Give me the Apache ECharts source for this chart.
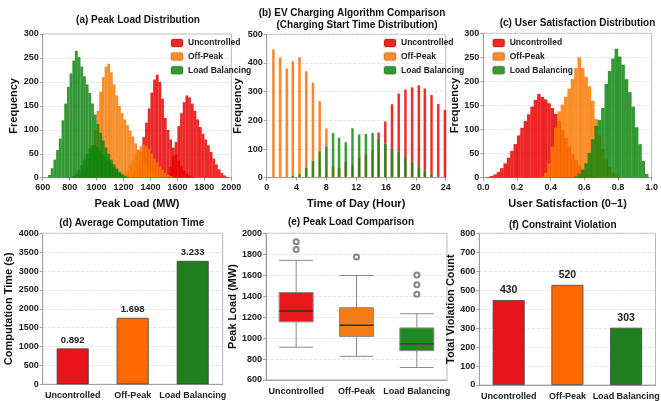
<!DOCTYPE html>
<html><head><meta charset="utf-8">
<script src="https://cdn.jsdelivr.net/npm/echarts@6/dist/echarts.min.js"></script>
<style>html,body{margin:0;padding:0;background:#fff}#c{width:661px;height:401px}</style>
</head><body><div id="c"></div>
<script>
// ---------- DATA ----------
const algorithms = ['Uncontrolled', 'Off-Peak', 'Load Balancing'];

// (a) Peak load histogram, bin centres (MW)
const loadBins = [650,670,690,710,730,750,770,790,810,830,850,870,890,910,930,950,970,990,1010,1030,1050,1070,1090,1110,1130,1150,1170,1190,1210,1230,1250,1270,1290,1310,1330,1350,1370,1390,1410,1430,1450,1470,1490,1510,1530,1550,1570,1590,1610,1630,1650,1670,1690,1710,1730,1750,1770,1790,1810,1830,1850,1870,1890,1910,1930,1950,1970];
const loadUncA = [0,0,0,0,0,0,0,0,0,0, 0,0,0,0,0,0,0,0,0,0, 0,0,0,0,0,0,0,0,0,0, 2,6,15,30,55,85,115,145,178,205, 215,200,165,125,100,80,63,48,35,24, 15,9,5,2,0,0,0,0,0,0, 0,0,0,0,0,0,0];
const loadUncB = [0,0,0,0,0,0,0,0,0,0, 0,0,0,0,0,0,0,0,0,0, 0,0,0,0,0,0,0,0,0,0, 0,0,0,0,0,0,0,0,0,0, 0,0,0,0,8,22,45,75,108,135, 158,172,168,155,140,122,106,92,80,68, 54,40,28,18,10,5,2];
const loadOffA = [0,0,0,0,0,0,0,0,0,0, 0,4,8,15,26,40,60,100,140,180, 210,232,238,220,195,172,150,135,122,110, 98,86,72,58,45,33,23,15,9,5, 2,0,0,0,0,0,0,0,0,0, 0,0,0,0,0,0,0,0,0,0, 0,0,0,0,0,0,0];
const loadOffB = [0,0,0,0,0,0,0,0,0,0, 0,0,0,0,0,0,0,0,0,0, 0,0,0,0,0,0,0,3,8,15, 25,36,48,58,66,70,67,60,51,41, 32,24,17,11,7,4,2,0,0,0, 0,0,0,0,0,0,0,0,0,0, 0,0,0,0,0,0,0];
const loadLbA = [6,20,38,58,82,120,155,190,218,245, 265,252,232,212,195,177,155,132,112,94, 78,63,50,38,28,19,12,7,3,0, 0,0,0,0,0,0,0,0,0,0, 0,0,0,0,0,0,0,0,0,0, 0,0,0,0,0,0,0,0,0,0, 0,0,0,0,0,0,0];
const loadLbB = [0,0,0,0,0,0,0,0,0,4, 9,16,26,38,50,61,68,66,62,56, 49,42,35,28,22,16,11,7,4,2, 0,0,0,0,0,0,0,0,0,0, 0,0,0,0,0,0,0,0,0,0, 0,0,0,0,0,0,0,0,0,0, 0,0,0,0,0,0,0];

// (b) charging start time histogram, bin centres (hour)
const timeBins = [0.9,1.8,2.7,3.5,4.4,5.3,6.2,7.1,8.0,8.9,9.7,10.6,11.5,12.4,13.3,14.2,15.0,15.9,16.8,17.7,18.6,19.5,20.4,21.2,22.1,23.0,23.9];
const timeUnc = [0,0,0,0,0,0,2,5,10,38,34,55,45,70,82,97,158,197,257,294,308,316,323,312,289,258,237];
const timeOff = [448,420,381,407,421,372,332,268,173,40,30,20,10,5,3,0,0,0,0,0,0,0,0,0,0,0,0];
const timeLb  = [0,0,0,8,15,35,60,93,110,157,140,125,173,152,153,157,137,120,103,92,73,55,37,25,13,3,0];

// (c) user satisfaction histogram, bin centres
const satBins = [0.03,0.05,0.07,0.09,0.11,0.13,0.15,0.17,0.19,0.21,0.23,0.25,0.27,0.29,0.31,0.33,0.35,0.37,0.39,0.41,0.43,0.45,0.47,0.49,0.51,0.53,0.55,0.57,0.59,0.61,0.63,0.65,0.67,0.69,0.71,0.73,0.75,0.77,0.79,0.81,0.83,0.85,0.87,0.89,0.91,0.93,0.95,0.97];
const satUnc = [2,4,7,12,20,30,42,56,70,88, 104,118,132,148,162,174,168,163,155,145, 133,118,100,82,65,50,37,26,17,10, 6,3,1,0,0,0,0,0,0,0, 0,0,0,0,0,0,0,0];
const satOff = [0,0,0,0,0,0,0,0,0,0, 0,0,0,0,0,0,3,10,30,65, 105,138,152,168,185,205,228,250,228,210, 190,160,122,88,60,38,22,11,5,2, 0,0,0,0,0,0,0,0];
const satLb  = [0,0,0,0,0,0,0,0,0,0, 0,0,0,0,0,0,0,0,0,0, 0,0,0,0,0,0,3,8,17,30, 52,80,108,120,145,195,222,248,268,252, 235,205,178,148,105,70,35,8];

// (d) average computation time
const compTime = [950, 1760, 3270];
const compLabels = ['0.892', '1.698', '3.233'];

// (e) peak load boxplot: [min, Q1, median, Q3, max]
const boxStats = [[913,1155,1258,1435,1742],[826,1016,1123,1290,1597],[719,880,945,1097,1232]];
const boxOutliers = [[0,1845],[0,1919],[1,1774],[2,1419],[2,1510],[2,1603]];
const boxMeans = [1326, 1088, 926];

// (f) constraint violation
const violations = [448, 528, 302];
const violationLabels = ['430', '520', '303'];

// ---------- STYLE ----------
const FONT = "'Liberation Sans Narrow','Liberation Sans',Arial,sans-serif";
const HC = ['#ee0000', '#ff7b00', '#118a11'];
const BC = ['#e8141c', '#ff6a00', '#1f7f1f'];
const XC = ['#e8181c', '#f57c14', '#1f8a1f'];

const grids = [
  {left:42.7, top:34, width:188.6, height:143.7},
  {left:266.7, top:34.3, width:179, height:143.4},
  {left:483.3, top:33.3, width:177.5, height:144.4},
  {left:42.7, top:233.3, width:180, height:151},
  {left:266, top:233.3, width:181, height:146.7},
  {left:479.3, top:233.3, width:186, height:153.4}
].map(g => Object.assign({show:true, borderColor:'#b8b8b8', borderWidth:1, backgroundColor:'transparent'}, g));

const lbl = {fontFamily:FONT, fontSize:9, fontWeight:'bold', color:'#222'};
const nameStyle = {fontFamily:FONT, fontSize:11, fontWeight:'bold', color:'#111'};
const axLine = {show:true, lineStyle:{color:'#a0a0a0', width:1}};
const tick = {show:true, length:3, lineStyle:{color:'#a0a0a0'}};
const split = {show:true, lineStyle:{color:'#dcdcdc', type:'dashed', width:0.8}};
const plain = v => String(v);

function valX(gi, min, max, interval, name, fmt) {
  return {type:'value', gridIndex:gi, min, max, interval, name, nameLocation:'middle', nameGap:21,
    nameTextStyle:nameStyle, axisLine:axLine, axisTick:tick, splitLine:{show:false},
    axisLabel:Object.assign({margin:5, formatter:fmt || plain}, lbl)};
}
function catX(gi) {
  return {type:'category', gridIndex:gi, data:algorithms, axisLine:axLine, axisTick:{show:false},
    splitLine:{show:false}, axisLabel:Object.assign({margin:7, interval:0}, lbl)};
}
function valY(gi, min, max, interval, name, gap) {
  return {type:'value', gridIndex:gi, min, max, interval, name, nameLocation:'middle', nameGap:gap,
    nameTextStyle:nameStyle, axisLine:axLine, axisTick:tick, splitLine:split,
    axisLabel:Object.assign({margin:4, formatter:plain}, lbl)};
}

function hist(name, bins, vals, color, gi, w) {
  return {type:'bar', name, xAxisIndex:gi, yAxisIndex:gi, barWidth:w, barGap:'-100%',
    data: bins.map((x,i) => vals[i] ? [x, vals[i]] : null).filter(Boolean),
    itemStyle:{color, opacity:0.85, borderColor:'rgba(0,0,0,0.15)', borderWidth:0.3},
    emphasis:{disabled:true}, silent:true};
}
function tbar(name, bins, vals, color, gi, w) {
  return {type:'bar', name, xAxisIndex:gi, yAxisIndex:gi, barWidth:w, barGap:'-100%',
    data: bins.map((x,i) => vals[i] ? [x, vals[i]] : null).filter(Boolean),
    itemStyle:{color, opacity:0.85, borderColor:'rgba(255,255,255,0.5)', borderWidth:0.4},
    emphasis:{disabled:true}, silent:true};
}

const legendBase = {orient:'vertical', itemWidth:12, itemHeight:8, itemGap:3.6, data:algorithms,
  textStyle:{fontFamily:FONT, fontSize:8.5, fontWeight:'bold', color:'#222'}, selectedMode:false, padding:0};

const series = [
  hist('Uncontrolled', loadBins, loadUncA, HC[0], 0, 3),
  hist('Uncontrolled', loadBins, loadUncB, HC[0], 0, 3),
  hist('Off-Peak', loadBins, loadOffA, HC[1], 0, 3),
  hist('Off-Peak', loadBins, loadOffB, HC[1], 0, 3),
  hist('Load Balancing', loadBins, loadLbA, HC[2], 0, 3),
  hist('Load Balancing', loadBins, loadLbB, HC[2], 0, 3),

  tbar('Uncontrolled', timeBins, timeUnc, '#ee0000', 1, 3),
  tbar('Off-Peak', timeBins, timeOff, '#ff6a00', 1, 3),
  tbar('Load Balancing', timeBins, timeLb, '#118a11', 1, 3),

  hist('Uncontrolled', satBins, satUnc, HC[0], 2, 3.8),
  hist('Off-Peak', satBins, satOff, HC[1], 2, 3.8),
  hist('Load Balancing', satBins, satLb, HC[2], 2, 3.8),

  {type:'bar', xAxisIndex:3, yAxisIndex:3, barWidth:32, silent:true,
   data: compTime.map((v,i)=>({value:v, itemStyle:{color:BC[i]}})),
   itemStyle:{borderColor:'#444', borderWidth:0.8},
   label:{show:true, position:'top', distance:3, formatter:p=>compLabels[p.dataIndex],
     fontFamily:FONT, fontSize:9.5, fontWeight:'bold', color:'#222'}},

  {type:'boxplot', xAxisIndex:4, yAxisIndex:4, boxWidth:[34,34], silent:true,
   data: boxStats.map((s,i)=>({value:s, itemStyle:{color:XC[i], borderColor:'#8a8a8a', borderWidth:1}}))},
  {type:'scatter', xAxisIndex:4, yAxisIndex:4, symbol:'rect', symbolSize:[34,1.4], silent:true,
   data: boxStats.map((s,i)=>[i, s[2]]), itemStyle:{color:'#1a1a1a'}},
  {type:'scatter', xAxisIndex:4, yAxisIndex:4, symbol:'emptyCircle', symbolSize:5, silent:true,
   data: boxOutliers, itemStyle:{color:'#666', borderColor:'#666', borderWidth:0.8}},
  {type:'scatter', xAxisIndex:4, yAxisIndex:4, symbolSize:1, silent:true, itemStyle:{opacity:0},
   data: boxMeans.map((m,i)=>[i, m]),
   label:{show:true, position:'inside', formatter:p=>String(boxMeans[p.dataIndex]),
     fontFamily:FONT, fontSize:10.5, color:'#1a1a1a'}},

  {type:'bar', xAxisIndex:5, yAxisIndex:5, barWidth:32, silent:true,
   data: violations.map((v,i)=>({value:v, itemStyle:{color:BC[i]}})),
   itemStyle:{borderColor:'#444', borderWidth:0.8},
   label:{show:true, position:'top', distance:4, formatter:p=>violationLabels[p.dataIndex],
     fontFamily:FONT, fontSize:10.5, fontWeight:'bold', color:'#222'}}
];

function ttext(x, y, t, size) {
  return {type:'text', x, y, silent:true, style:{text:t, fill:'#111', font:'bold '+(size||10)+'px '+FONT,
    textAlign:'center', textVerticalAlign:'middle', align:'center', verticalAlign:'middle'}};
}

const option = {
  animation:false,
  backgroundColor:'#fff',
  grid: grids,
  xAxis: [
    valX(0, 600, 2000, 200, 'Peak Load (MW)'),
    valX(1, 0, 24, 4, 'Time of Day (Hour)'),
    valX(2, 0, 1, 0.2, 'User Satisfaction (0\u20131)', v => v.toFixed(1)),
    catX(3), catX(4), catX(5)
  ],
  yAxis: [
    valY(0, 0, 300, 50, 'Frequency', 22),
    valY(1, 0, 500, 100, 'Frequency', 19.5),
    valY(2, 0, 300, 50, 'Frequency', 19.5),
    valY(3, 0, 4000, 500, 'Computation Time (s)', 24),
    valY(4, 600, 2000, 200, 'Peak Load (MW)', 22.5),
    valY(5, 0, 800, 100, 'Total Violation Count', 17)
  ],
  legend: [
    Object.assign({left:170, top:38}, legendBase),
    Object.assign({left:383, top:38}, legendBase),
    Object.assign({left:491.7, top:38}, legendBase)
  ],
  graphic: [
    ttext(138, 20, '(a) Peak Load Distribution'),
    ttext(352, 13.3, '(b) EV Charging Algorithm Comparison'),
    ttext(357, 25, '(Charging Start Time Distribution)'),
    ttext(577.5, 23, '(c) User Satisfaction Distribution'),
    ttext(131.7, 223.3, '(d) Average Computation Time'),
    ttext(351, 222.7, '(e) Peak Load Comparison'),
    ttext(562.7, 225, '(f) Constraint Violation')
  ],
  series
};

const chart = echarts.init(document.getElementById('c'), null, {renderer:'canvas'});
chart.setOption(option);
</script></body></html>
